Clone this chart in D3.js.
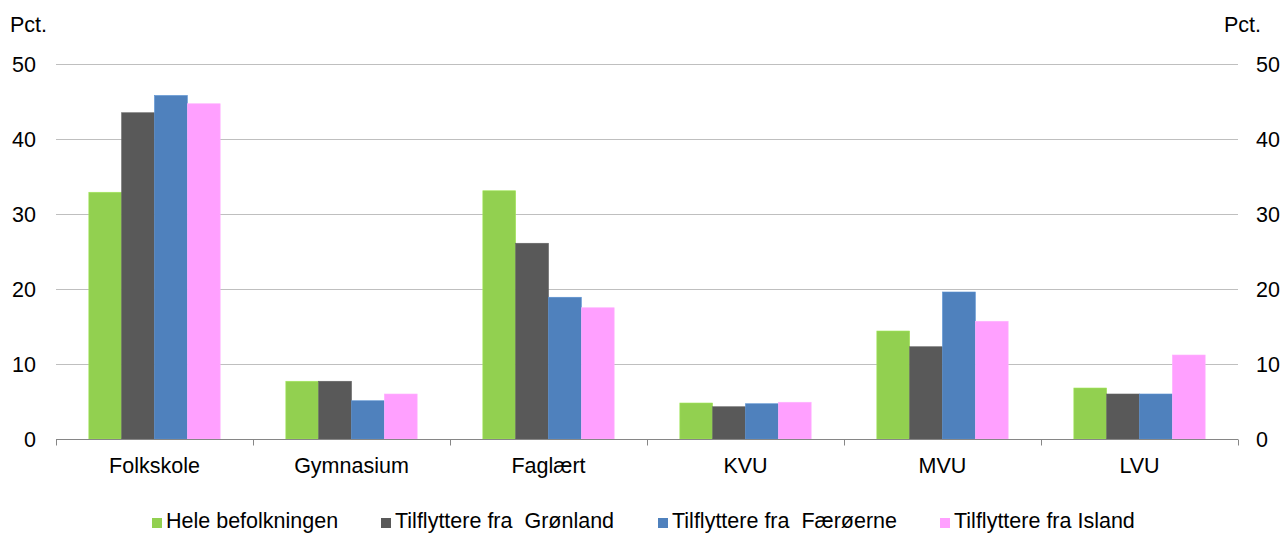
<!DOCTYPE html>
<html><head><meta charset="utf-8">
<script src="https://cdn.jsdelivr.net/npm/d3@7/dist/d3.min.js"></script>
<style>body{margin:0;background:#fff}text{font-family:"Liberation Sans",Arial,sans-serif;fill:#000}</style>
</head><body><svg id="c" width="1283" height="534"></svg>
<script>
const categories = ["Folkskole","Gymnasium","Faglært","KVU","MVU","LVU"];
const seriesNames = ["Hele befolkningen","Tilflyttere fra  Grønland","Tilflyttere fra  Færøerne","Tilflyttere fra Island"];
const hele = [32.9, 7.7, 33.1, 4.8, 14.4, 6.8];
const groenland = [43.5, 7.7, 26.1, 4.3, 12.3, 6.0];
const faeroerne = [45.8, 5.1, 18.9, 4.7, 19.6, 6.0];
const island = [44.7, 6.0, 17.5, 4.9, 15.7, 11.2];
const yTicks = [0,10,20,30,40,50];
const colors = ["#92D050","#595959","#4F81BD","#FFA0FF"];
const series = [hele, groenland, faeroerne, island];

const FS = 21.5;
const svg = d3.select("#c");
const L = 56, R = 1238, T = 64, B = 439;
const x = d3.scaleBand().domain(categories).range([L, R]);
const xi = d3.scaleBand().domain(d3.range(4)).range([0, x.bandwidth()]).paddingOuter(1).paddingInner(0);
const y = d3.scaleLinear().domain([0,50]).range([B, T]);

// gridlines
svg.append("g").selectAll("line").data(yTicks.filter(d=>d>0)).join("line")
  .attr("x1", L).attr("x2", R).attr("y1", d=>y(d)+0.5).attr("y2", d=>y(d)+0.5)
  .attr("stroke", "#bfbfbf").attr("stroke-width", 1);

// bars
series.forEach((s, si) => {
  svg.append("g").selectAll("rect").data(categories).join("rect")
    .attr("x", c => x(c) + xi(si))
    .attr("width", xi.bandwidth())
    .attr("y", (c,i) => y(s[i]))
    .attr("height", (c,i) => B - y(s[i]))
    .attr("fill", colors[si])
    .attr("stroke", d3.color(colors[si]).brighter(0.3))
    .attr("stroke-width", 0.6);
});

// x axis
const xa = svg.append("g").attr("transform", `translate(0,${B+0.5})`);
xa.append("line").attr("x1", L).attr("x2", R).attr("stroke", "#868686");
const bounds = categories.map(c => x(c)).concat([R]);
xa.selectAll("line.t").data(bounds).join("line").attr("class","t")
  .attr("x1", d=>d+0.5).attr("x2", d=>d+0.5).attr("y1", 0).attr("y2", 6).attr("stroke", "#868686");
xa.selectAll("text").data(categories).join("text")
  .attr("x", c => x(c) + x.bandwidth()/2).attr("y", 33)
  .attr("text-anchor", "middle").attr("font-size", FS).text(d=>d);

// y labels
svg.append("g").selectAll("text").data(yTicks).join("text")
  .attr("x", 36).attr("y", d=>y(d)+8).attr("text-anchor","end").attr("font-size",FS).text(d=>d);
svg.append("g").selectAll("text").data(yTicks).join("text")
  .attr("x", 1256).attr("y", d=>y(d)+8).attr("text-anchor","start").attr("font-size",FS).text(d=>d);
svg.append("text").attr("x", 10).attr("y", 32).attr("font-size", FS).text("Pct.");
svg.append("text").attr("x", 1224).attr("y", 32).attr("font-size", FS).text("Pct.");

// legend
const legX = [152, 381, 658, 940];
const lg = svg.append("g");
seriesNames.forEach((n, i) => {
  lg.append("rect").attr("x", legX[i]).attr("y", 518).attr("width", 10).attr("height", 10).attr("fill", colors[i]);
  lg.append("text").attr("x", legX[i] + 14).attr("y", 528).attr("font-size", FS).attr("xml:space","preserve").style("white-space","pre").text(n);
});
</script></body></html>
